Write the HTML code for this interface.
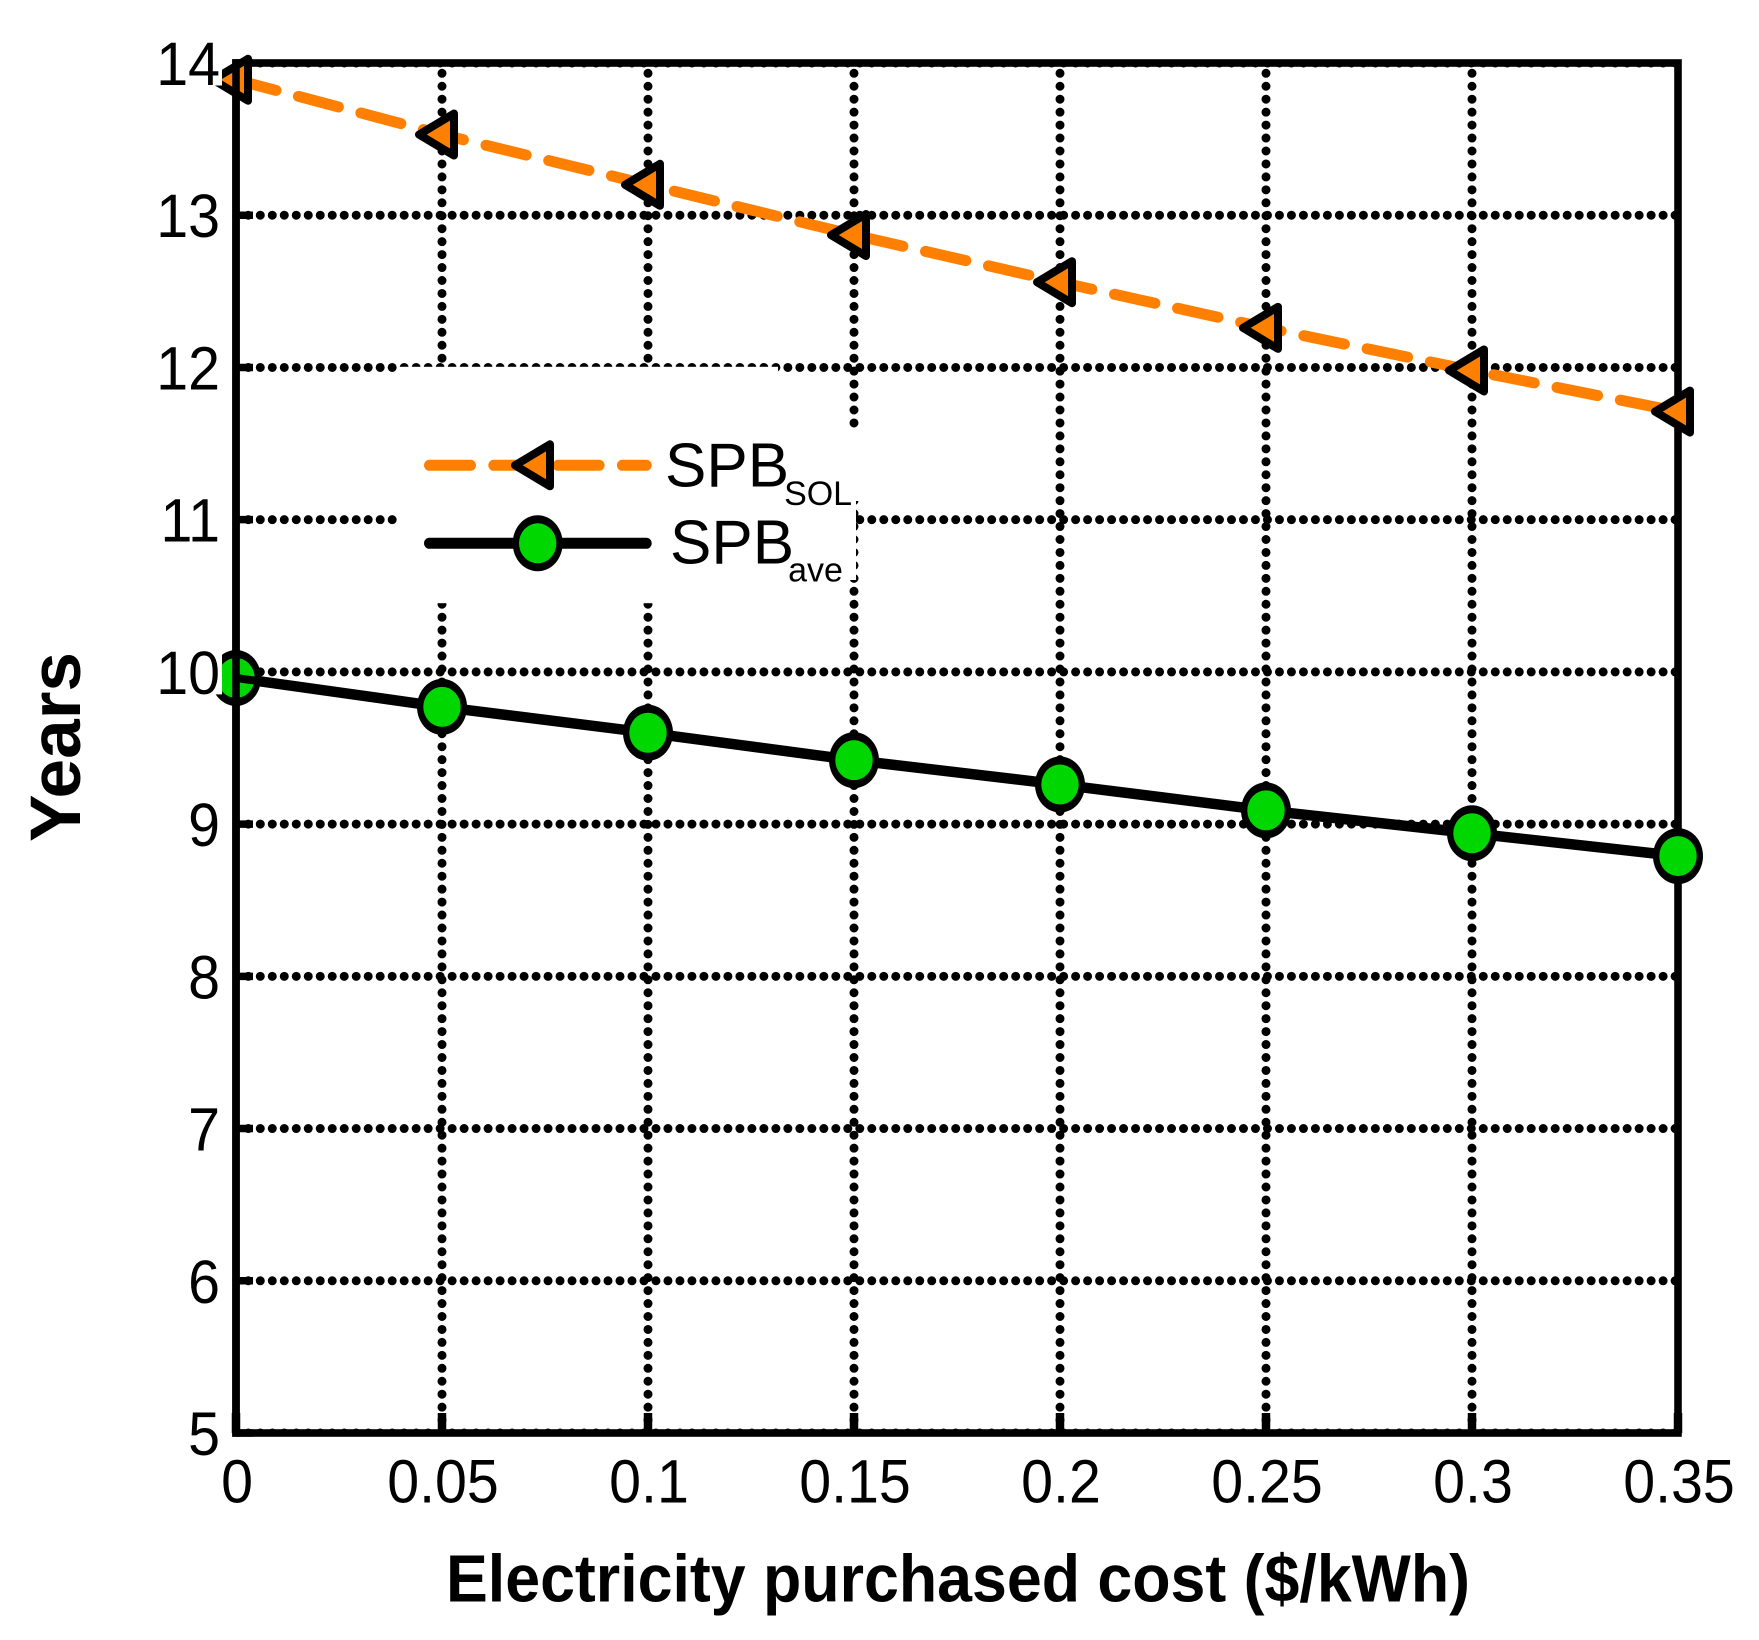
<!DOCTYPE html>
<html lang="en">
<head>
<meta charset="utf-8">
<title>Simple payback vs electricity purchased cost</title>
<style>
  html, body { margin: 0; padding: 0; background: #fff; }
  svg { display: block; }
  text { font-family: "Liberation Sans", Arial, sans-serif; fill: #000; }
</style>
</head>
<body>
<svg id="chart" xmlns="http://www.w3.org/2000/svg" width="1759" height="1640" viewBox="0 0 1759 1640">
  <defs>
    <clipPath id="plot-clip"><rect x="236" y="63" width="1442" height="1370"/></clipPath>
  </defs>
  <g id="grid" clip-path="url(#plot-clip)"></g>
  <g>
    <rect x="397" y="366.8" width="381" height="236.4" fill="#fff"/>
    <rect x="778" y="428" width="82" height="73" fill="#fff"/>
    <rect x="778" y="501" width="78" height="79" fill="#fff"/>
  </g>
  <g id="ticks"></g>
  <rect x="236" y="63" width="1442" height="1370" fill="none" stroke="#000" stroke-width="7.6"/>
  <g id="series"></g>
  <line x1="236" y1="59.2" x2="236" y2="1436.8" stroke="#000" stroke-width="7.6"/>
  <g id="series-top"></g>
  <g id="tick-labels"></g>
  <g>
    <g>
      <line x1="429.5" y1="465.3" x2="646.2" y2="465.3" stroke="#ff8000" stroke-width="11" stroke-linecap="round" stroke-dasharray="41 23.3"/>
      <path d="M515 465.3 L550 444.3 L550 486.3 Z" fill="#ff8000" stroke="#000" stroke-width="8" stroke-linejoin="round"/>
      <text x="665" y="486.7" font-size="62">SPB<tspan font-size="34" dx="-5" dy="18.3">SOL</tspan></text>
    </g>
    <g>
      <line x1="429.5" y1="543.3" x2="646.2" y2="543.3" stroke="#000" stroke-width="11" stroke-linecap="round"/>
      <ellipse cx="537.7" cy="543.3" rx="25" ry="28" fill="#000"/>
      <ellipse cx="537.7" cy="543.3" rx="18.7" ry="20" fill="#00d600"/>
      <text x="670" y="563.3" font-size="62">SPB<tspan font-size="34" dx="-6" dy="18.4">ave</tspan></text>
    </g>
  </g>
  <text x="446" y="1601.5" font-size="67" font-weight="700" textLength="1024" lengthAdjust="spacingAndGlyphs">Electricity purchased cost ($/kWh)</text>
  <text transform="translate(80 842) rotate(-90)" x="0" y="0" font-size="71" font-weight="700" textLength="190" lengthAdjust="spacingAndGlyphs">Years</text>
</svg>
<script>
const costCategories = [0, 0.05, 0.1, 0.15, 0.2, 0.25, 0.3, 0.35];
const spbSolValues = [13.89, 13.53, 13.20, 12.87, 12.56, 12.26, 11.98, 11.71];
const spbAveValues = [9.96, 9.77, 9.60, 9.42, 9.26, 9.09, 8.94, 8.79];
const xTickValues = [0, 0.05, 0.1, 0.15, 0.2, 0.25, 0.3, 0.35];
const xTickLabels = ["0", "0.05", "0.1", "0.15", "0.2", "0.25", "0.3", "0.35"];
const yTickValues = [5, 6, 7, 8, 9, 10, 11, 12, 13, 14];
const yTickLabels = ["5", "6", "7", "8", "9", "10", "11", "12", "13", "14"];

const plotLeft = 236, plotRight = 1678, plotTop = 63, plotBottom = 1433;
const xMin = 0, xMax = 0.35, yMin = 5, yMax = 14;
function xScale(v) { return plotLeft + (v - xMin) / (xMax - xMin) * (plotRight - plotLeft); }
function yScale(v) { return plotBottom - (v - yMin) / (yMax - yMin) * (plotBottom - plotTop); }

const NS = "http://www.w3.org/2000/svg";
function make(tag, parentId, attrs) {
  const el = document.createElementNS(NS, tag);
  for (const k in attrs) el.setAttribute(k, attrs[k]);
  document.getElementById(parentId).appendChild(el);
  return el;
}

const labelScale = "scale(0.94,1)";

xTickValues.forEach(function (v, i) {
  const px = xScale(v);
  if (v > xMin && v < xMax) {
    const gx = make("line", "grid", { x1: px, y1: 73.3, x2: px, y2: plotBottom - 12, stroke: "#000", "stroke-width": 9, "stroke-linecap": "round", "stroke-dasharray": "0 12.95" });
    
    
  }
  const tick = make("line", "ticks", { x1: px, y1: plotBottom, x2: px, y2: plotBottom - 20, stroke: "#000", "stroke-width": 8.5 });
  
  
  const label = make("text", "tick-labels", { transform: "translate(" + (px + 1) + " 1502.5) " + labelScale, "font-size": 61, "text-anchor": "middle" });
  
  
  label.textContent = xTickLabels[i];
});

yTickValues.forEach(function (v, i) {
  const py = yScale(v);
  const gy = make("line", "grid", { x1: plotLeft + 12.3, y1: py, x2: plotRight, y2: py, stroke: "#000", "stroke-width": 9, "stroke-linecap": "round", "stroke-dasharray": "0 11.99" });
  
  
  const tick = make("line", "ticks", { x1: plotLeft, y1: py, x2: plotLeft + 17, y2: py, stroke: "#000", "stroke-width": 7.5 });
  
  
  const bg = make("rect", "tick-labels", { x: 150, y: py + 22 - 48, width: 72, height: 48.5, fill: "#fff" });
  
  
  const label = make("text", "tick-labels", { transform: "translate(220 " + (py + 22) + ") " + labelScale, "font-size": 61, "text-anchor": "end" });
  
  
  label.textContent = yTickLabels[i];
});

function pointsFor(values) {
  return values.map(function (v, i) { return xScale(costCategories[i]) + "," + yScale(v); }).join(" ");
}

const aveLine = make("polyline", "series", { points: pointsFor(spbAveValues), fill: "none", stroke: "#000", "stroke-width": 10.5, "stroke-linecap": "round", "stroke-linejoin": "round" });



const solLine = make("polyline", "series", { points: pointsFor(spbSolValues), fill: "none", stroke: "#ff8000", "stroke-width": 11, "stroke-linecap": "round", "stroke-linejoin": "round", "stroke-dasharray": "41.4 23.2" });



spbAveValues.forEach(function (v, i) {
  const cx = xScale(costCategories[i]);
  const cy = yScale(v);
  const ring = make("ellipse", "series", { cx: cx, cy: cy, rx: 25, ry: 28, fill: "#000" });
  
  
  const dot = make("ellipse", "series", { cx: cx, cy: cy, rx: 18.7, ry: 20, fill: "#00d600" });
  
  
});

spbSolValues.forEach(function (v, i) {
  const cx = xScale(costCategories[i]);
  const cy = yScale(v);
  const tri = make("path", "series", {
    d: "M" + (cx - 23) + " " + cy + " L" + (cx + 12) + " " + (cy - 21) + " L" + (cx + 12) + " " + (cy + 21) + " Z",
    fill: "#ff8000", stroke: "#000", "stroke-width": 8, "stroke-linejoin": "round"
  });
  
  
});

const firstSegment = make("line", "series-top", {
  x1: xScale(costCategories[0]), y1: yScale(spbAveValues[0]),
  x2: xScale(costCategories[0]) + 24, y2: yScale(spbAveValues[0]) + 24 * (yScale(spbAveValues[1]) - yScale(spbAveValues[0])) / (xScale(costCategories[1]) - xScale(costCategories[0])),
  stroke: "#000", "stroke-width": 8
});


</script>
</body>
</html>
